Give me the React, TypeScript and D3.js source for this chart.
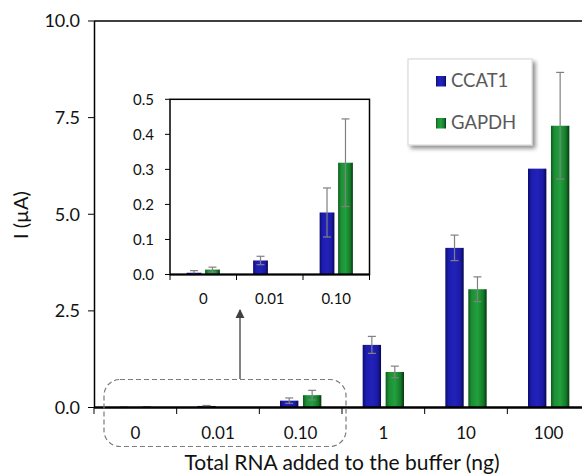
import React from "react";
import * as d3 from "d3";

// values
const categories = ["0", "0.01", "0.10", "1", "10", "100"];
const insetCategories = ["0", "0.01", "0.10"];
const seriesNames = ["CCAT1", "GAPDH"];
const ccat1 = [0.005, 0.04, 0.177, 1.62, 4.13, 6.18];
const ccat1Err = [0.006, 0.012, 0.07, 0.22, 0.33, 0];
const gapdh = [0.014, 0, 0.319, 0.92, 3.06, 7.29];
const gapdhErr = [0.007, 0, 0.125, 0.15, 0.32, 1.38];
const mainTicks = [0, 2.5, 5, 7.5, 10];
const insetTicks = [0, 0.1, 0.2, 0.3, 0.4, 0.5];

const W = 582;
const H = 476;
const FONT = "Lato, 'Open Sans', sans-serif";

const rows = categories.map((c, i) => ({
  cat: c,
  values: [
    { s: "CCAT1", v: ccat1[i], e: ccat1Err[i] },
    { s: "GAPDH", v: gapdh[i], e: gapdhErr[i] },
  ],
}));

function Bars({ x, y, data, capW }: any) {
  const bw = x.bandwidth();
  const sub = d3.scaleBand().domain(seriesNames).range([0.25 * bw, 0.75 * bw]).paddingInner(0.2);
  return (
    <g>
      {data.map((r: any) =>
        r.values.map((d: any) => {
          if (d.v <= 0) return null;
          const bx = x(r.cat) + sub(d.s);
          const w = sub.bandwidth();
          const top = y(d.v);
          const base = y(0);
          const cx = bx + w / 2;
          return (
            <g key={r.cat + d.s}>
              <rect x={bx} y={top} width={w} height={base - top}
                fill={d.s === "CCAT1" ? "url(#gBlue)" : "url(#gGreen)"} />
              {d.e > 0 && (
                <g stroke="#808080" strokeWidth={1.2}>
                  <line x1={cx} x2={cx} y1={y(d.v + d.e)} y2={y(Math.max(0, d.v - d.e))} />
                  <line x1={cx - capW / 2} x2={cx + capW / 2} y1={y(d.v + d.e)} y2={y(d.v + d.e)} />
                  <line x1={cx - capW / 2} x2={cx + capW / 2} y1={y(Math.max(0, d.v - d.e))} y2={y(Math.max(0, d.v - d.e))} />
                </g>
              )}
            </g>
          );
        })
      )}
    </g>
  );
}

export default function App() {
  // main chart
  const x = d3.scaleBand().domain(categories).range([94, 590]);
  const y = d3.scaleLinear().domain([0, 10]).range([407.5, 21]);
  const step = x.step();
  const bounds = d3.range(categories.length + 1).map((i) => 94 + i * step);

  // inset chart
  const ix = d3.scaleBand().domain(insetCategories).range([170, 369.5]);
  const iy = d3.scaleLinear().domain([0, 0.5]).range([274.5, 99.3]);
  const istep = ix.step();
  const ibounds = d3.range(insetCategories.length + 1).map((i) => 170 + i * istep);
  const insetRows = rows.slice(0, 3);

  return (
    <svg width={W} height={H} style={{ position: "absolute", left: 0, top: 0, background: "#fff" }}
      fontFamily={FONT}>
      <defs>
        <linearGradient id="gBlue" x1="0" x2="1" y1="0" y2="0">
          <stop offset="0" stopColor="#0b0b6e" />
          <stop offset="0.18" stopColor="#1c1cae" />
          <stop offset="0.5" stopColor="#2222bb" />
          <stop offset="0.82" stopColor="#1a1aa2" />
          <stop offset="1" stopColor="#07074f" />
        </linearGradient>
        <linearGradient id="gGreen" x1="0" x2="1" y1="0" y2="0">
          <stop offset="0" stopColor="#0c5a1c" />
          <stop offset="0.18" stopColor="#1c8e34" />
          <stop offset="0.5" stopColor="#22a03e" />
          <stop offset="0.82" stopColor="#147a28" />
          <stop offset="1" stopColor="#063412" />
        </linearGradient>
        <filter id="shadow" x="-20%" y="-20%" width="150%" height="150%">
          <feGaussianBlur in="SourceAlpha" stdDeviation="2" />
          <feOffset dx="3" dy="3" result="b" />
          <feComponentTransfer><feFuncA type="linear" slope="0.45" /></feComponentTransfer>
          <feMerge><feMergeNode /><feMergeNode in="SourceGraphic" /></feMerge>
        </filter>
        <marker id="arrow" viewBox="0 0 10 10" refX="9" refY="5" markerWidth="7" markerHeight="7" orient="auto">
          <path d="M0,0 L10,5 L0,10 z" fill="#404040" />
        </marker>
      </defs>

      {/* main bars */}
      <Bars x={x} y={y} data={rows} capW={8} />

      {/* main axes */}
      <line x1={94} x2={W} y1={21} y2={21} stroke="#000" strokeWidth={1.5} />
      <line x1={94.5} x2={94.5} y1={21} y2={408} stroke="#000" strokeWidth={1.5} />
      <line x1={94} x2={W} y1={407.5} y2={407.5} stroke="#000" strokeWidth={2.5} />
      {mainTicks.map((t) => (
        <g key={t}>
          <line x1={88} x2={94} y1={y(t)} y2={y(t)} stroke="#000" strokeWidth={1} />
          <text x={80} y={y(t)} dy="0.36em" textAnchor="end" fontSize={18} fill="#111">
            {d3.format(".1f")(t)}
          </text>
        </g>
      ))}
      {bounds.map((b, i) => (
        <line key={i} x1={b} x2={b} y1={408} y2={414} stroke="#000" strokeWidth={1} />
      ))}
      {categories.map((c) => (
        <text key={c} x={x(c)! + step / 2} y={439} textAnchor="middle" fontSize={17} fill="#111">{c}</text>
      ))}
      <text x={342} y={470} textAnchor="middle" fontSize={21} fill="#111">
        Total RNA added to the buffer (ng)
      </text>
      <text transform="translate(28,215) rotate(-90)" textAnchor="middle" fontSize={20} fill="#111">
        I  (µA)
      </text>

      {/* zoom region marker */}
      <rect x={104} y={379.5} width={242} height={67} rx={16} fill="none" stroke="#7a7a7a"
        strokeWidth={1.2} strokeDasharray="5,3" />
      <line x1={240} x2={240} y1={379} y2={310} stroke="#404040" strokeWidth={1.3} markerEnd="url(#arrow)" />

      {/* inset */}
      <rect x={170} y={99.3} width={199.5} height={175.2} fill="#fff" stroke="none" />
      <Bars x={ix} y={iy} data={insetRows} capW={8} />
      <rect x={170} y={99.3} width={199.5} height={175.2} fill="none" stroke="#000" strokeWidth={1.5} />
      <line x1={170} x2={369.5} y1={274.5} y2={274.5} stroke="#000" strokeWidth={2} />
      {insetTicks.map((t) => (
        <g key={t}>
          <line x1={165} x2={170} y1={iy(t)} y2={iy(t)} stroke="#000" strokeWidth={1} />
          <text x={154} y={iy(t)} dy="0.36em" textAnchor="end" fontSize={15} fill="#111">
            {d3.format(".1f")(t)}
          </text>
        </g>
      ))}
      {ibounds.map((b, i) => (
        <line key={i} x1={b} x2={b} y1={275} y2={280} stroke="#000" strokeWidth={1} />
      ))}
      {insetCategories.map((c) => (
        <text key={c} x={ix(c)! + istep / 2} y={304} textAnchor="middle" fontSize={15} fill="#111">{c}</text>
      ))}

      {/* legend */}
      <rect x={408} y={59} width={124} height={86} fill="#fff" stroke="#d4d4d4" strokeWidth={1} filter="url(#shadow)" />
      {seriesNames.map((s, i) => (
        <g key={s} transform={`translate(436,${76 + i * 42})`}>
          <rect width={10} height={10.5} fill={i === 0 ? "url(#gBlue)" : "url(#gGreen)"} />
          <text x={15} y={10.5} fontSize={18.5} fill="#595959">{s}</text>
        </g>
      ))}
    </svg>
  );
}
